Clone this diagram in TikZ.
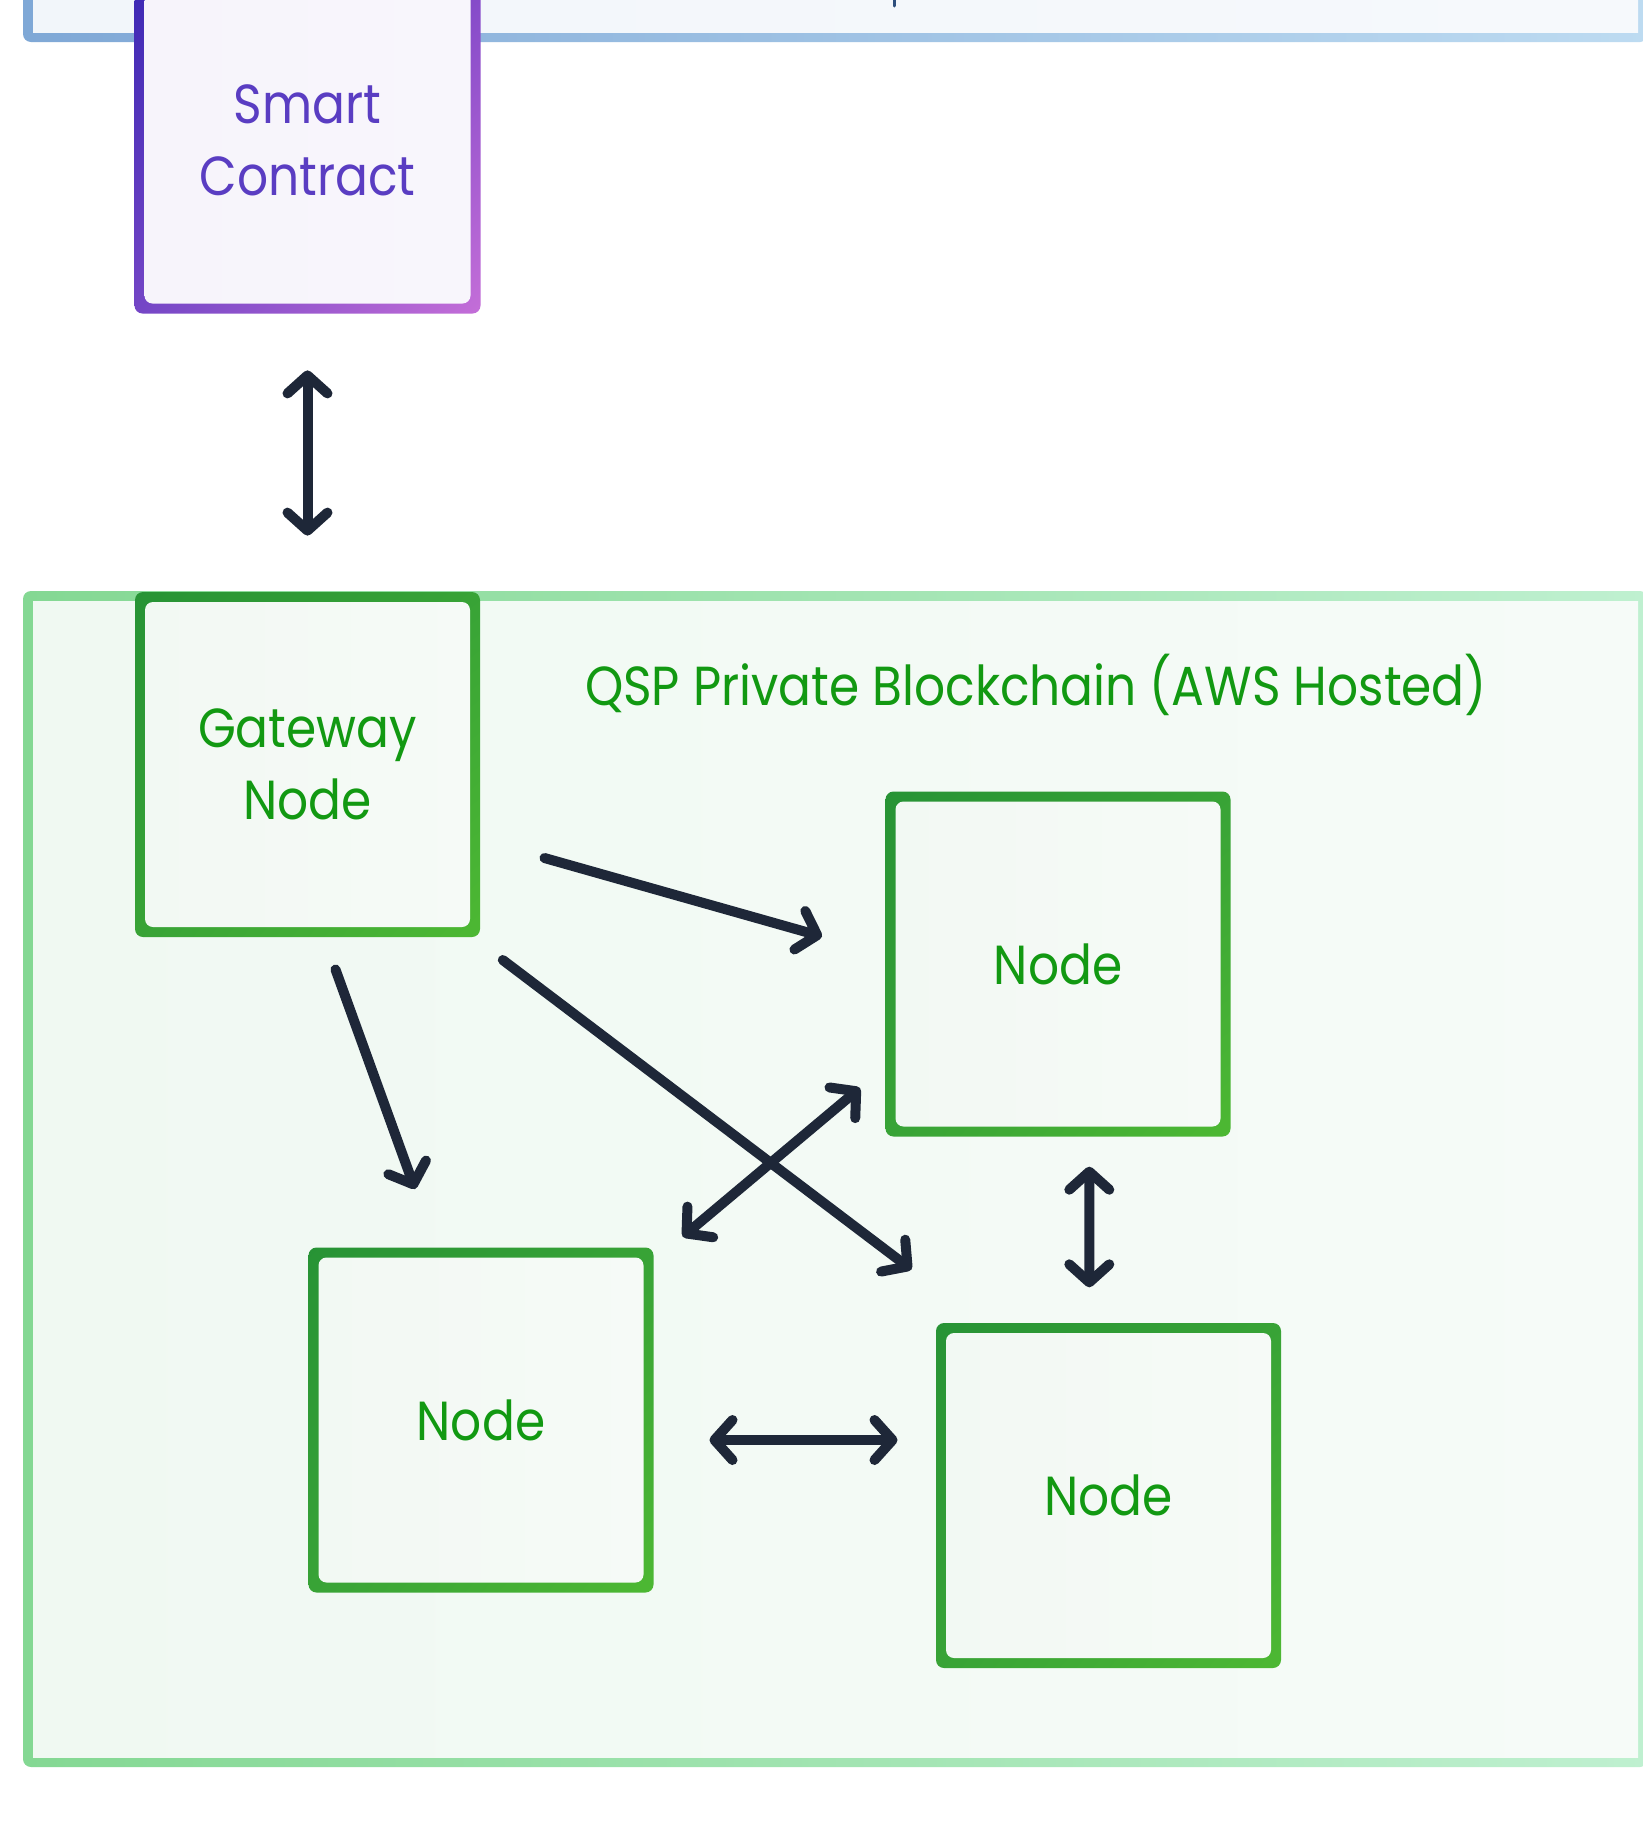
\documentclass[tikz,border=0pt]{standalone}
\usepackage{fontspec}
\setmainfont{Poppins}[FakeStretch=0.885]
\usetikzlibrary{arrows.meta,calc,shadings}
\definecolor{bL}{HTML}{7FA8D6}
\definecolor{bR}{HTML}{BDDBF1}
\definecolor{bfL}{HTML}{F2F6FA}
\definecolor{bfR}{HTML}{F6F9FC}
\definecolor{gL}{HTML}{84D893}
\definecolor{gR}{HTML}{BFF0D0}
\definecolor{gfL}{HTML}{F0F9F2}
\definecolor{gfR}{HTML}{F6FBF8}
\definecolor{nUL}{HTML}{279335}
\definecolor{nM}{HTML}{38A336}
\definecolor{nLR}{HTML}{4DB833}
\definecolor{nfL}{HTML}{F2F9F3}
\definecolor{nfR}{HTML}{F6FAF7}
\definecolor{gtext}{HTML}{129912}
\definecolor{sUL}{HTML}{3A27B3}
\definecolor{sUR}{HTML}{8048C8}
\definecolor{sLL}{HTML}{7446C6}
\definecolor{sLR}{HTML}{C46ED8}
\definecolor{sfL}{HTML}{F7F4FB}
\definecolor{sfR}{HTML}{F8F6FC}
\definecolor{stext}{HTML}{5A3DC2}
\definecolor{arrowc}{HTML}{1E2738}
\definecolor{ptext}{HTML}{2D4F7C}
\tikzset{
  lbl/.style={font=\fontsize{27.5}{36}\selectfont, align=center},
  innerfill/.style 2 args={path picture={\shade[left color=#1, right color=#2]
      ([shift={(5pt,-5pt)}]path picture bounding box.north west) rectangle
      ([shift={(-5pt,5pt)}]path picture bounding box.south east);}},
  nodebox/.style={inner sep=0pt, minimum width=172.5pt, minimum height=172.5pt,
      rounded corners=4pt, upper left=nUL, upper right=nM, lower left=nM, lower right=nLR,
      innerfill={nfL}{nfR}, lbl, text=gtext},
  scbox/.style={inner sep=0pt, minimum width=173pt, minimum height=172.75pt,
      rounded corners=4pt, upper left=sUL, upper right=sUR, lower left=sLL, lower right=sLR,
      innerfill={sfL}{sfR}, lbl, text=stext},
  conn/.style={draw=arrowc, line width=5pt, line cap=round},
  arr/.style={conn, -{Straight Barb[length=9pt,width=20pt,line cap=round,line join=round]}},
  dbl/.style={conn, {Straight Barb[length=9pt,width=20pt,line cap=round,line join=round]}-{Straight Barb[length=9pt,width=20pt,line cap=round,line join=round]}}
}
\begin{document}
\begin{tikzpicture}[x=0.5pt,y=-0.5pt]
\useasboundingbox (0,0) rectangle (1643,1821);
\fill[white] (0,0) rectangle (1643,1821);
% top blue container
\shade[left color=bL, right color=bR, rounded corners=4pt] (23,-80) rectangle (1648,42);
\shade[left color=bfL, right color=bfR] (33,-80) rectangle (1638,32);
\draw[ptext, line width=1.5pt, line cap=round] (894,-5) -- (894,6);
% green container
\shade[left color=gL, right color=gR, rounded corners=4pt] (23,591) rectangle (1648,1767);
\shade[left color=gfL, right color=gfR] (33,601) rectangle (1638,1757);
% nodes
\node[scbox] (sc) at (307.5,140.75) {Smart\\Contract};
\node[nodebox] (gw) at (307.5,764.5) {Gateway\\Node};
\node[nodebox] (n1) at (1058,964) {Node};
\node[nodebox] (n2) at (481,1420) {Node};
\node[nodebox] (n3) at (1108.5,1495.5) {Node};
\node[lbl, text=gtext, inner sep=0pt] (title) at (1036,685) {QSP Private Blockchain (AWS Hosted)};
% connectors
\draw[dbl] ([shift={(0,56.5)}]sc.south) -- ([shift={(0,-56)}]gw.north);
\draw[arr] ([shift={(237,93.5)}]gw.center) -- ([shift={(-236,-27.5)}]n1.center);
\draw[arr] ([shift={(28,205)}]gw.center) -- ([shift={(-66,-231)}]n2.center);
\draw[arr] ([shift={(195.3,195.5)}]gw.center) -- ([shift={(-197,-226)}]n3.center);
\draw[dbl] ([shift={(-198,124)}]n1.center) -- ([shift={(201.7,-183.3)}]n2.center);
\draw[dbl] ([shift={(31.3,202.7)}]n1.center) -- ([shift={(-19.2,-208.2)}]n3.center);
\draw[dbl] ([shift={(228.5,20)}]n2.center) -- ([shift={(-211,-55.5)}]n3.center);
\end{tikzpicture}
\end{document}
